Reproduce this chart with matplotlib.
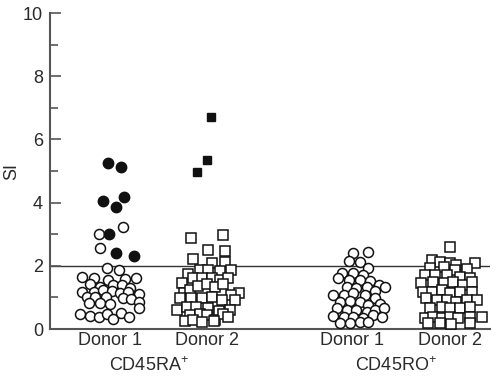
import matplotlib
matplotlib.use("Agg")
import matplotlib.pyplot as plt
import numpy as np

plt.rcParams['font.family'] = ['Liberation Sans', 'DejaVu Sans']
plt.rcParams['mathtext.fontset'] = 'custom'
plt.rcParams['mathtext.rm'] = 'Liberation Sans'
plt.rcParams['mathtext.it'] = 'Liberation Sans'

# Group centres and labels
group_pos = [1.0, 2.0, 3.5, 4.5]
donor_labels = ["Donor 1", "Donor 2", "Donor 1", "Donor 2"]
subset_labels = ["CD45RA$^{+}$", "CD45RO$^{+}$"]
subset_pos = [1.4, 3.95]
threshold = 2.0

# CD45RA+ Donor 1 (open circles): SI values and horizontal jitter
ra1_open_si = [1.94, 1.87, 1.66, 1.60, 1.55, 1.58, 1.62, 1.41, 1.34, 1.39, 1.39, 1.29,
               1.18, 1.18, 1.23, 1.20, 1.13, 1.16, 1.10, 1.02, 1.02, 1.02, 0.99, 0.94,
               0.81, 0.81, 0.78, 0.86, 0.47, 0.42, 0.39, 0.47, 0.32, 0.50, 0.39, 0.65,
               3.02, 3.22, 2.55]
ra1_open_dx = [-0.03, 0.09, -0.29, -0.17, -0.02, 0.15, 0.27, -0.21, -0.10, 0.03, 0.12, 0.21,
               -0.29, -0.17, -0.07, 0.02, 0.10, 0.19, 0.30, -0.24, -0.15, -0.04, 0.13, 0.22,
               -0.22, -0.10, 0.00, 0.30, -0.31, -0.21, -0.11, -0.03, 0.03, 0.11, 0.20, 0.30,
               -0.11, 0.13, -0.10]
# CD45RA+ Donor 1 (filled circles)
ra1_fill_si = [5.26, 5.12, 4.05, 4.19, 3.85, 3.00, 2.41, 2.31]
ra1_fill_dx = [-0.02, 0.11, -0.07, 0.14, 0.06, -0.01, 0.06, 0.25]

# CD45RA+ Donor 2 (open squares)
ra2_open_si = [2.87, 2.97, 2.50, 2.47, 2.21, 2.10, 2.13, 1.73, 1.87, 1.87, 1.84, 1.87,
               1.45, 1.62, 1.60, 1.60, 1.55, 1.60, 1.13, 1.13, 1.23, 1.36, 1.41, 1.34,
               1.41, 1.08, 0.99, 0.99, 0.97, 1.02, 0.92, 0.92, 0.60, 0.71, 0.71, 0.65,
               0.57, 0.60, 0.44, 0.47, 0.44, 0.28, 0.47, 0.26, 0.28, 0.23, 0.26, 0.37]
ra2_open_dx = [-0.16, 0.16, 0.01, 0.19, -0.14, 0.05, 0.19, -0.20, -0.07, 0.01, 0.13, 0.25,
               -0.26, -0.14, -0.05, 0.05, 0.13, 0.22, 0.33, -0.24, -0.18, -0.09, 0.00, 0.08,
               0.17, 0.25, -0.28, -0.16, -0.05, 0.05, 0.15, 0.29, -0.31, -0.21, -0.11, 0.01,
               0.12, 0.24, -0.18, -0.07, 0.00, 0.08, 0.17, -0.23, -0.14, -0.05, 0.07, 0.22]
# CD45RA+ Donor 2 (filled squares)
ra2_fill_si = [6.72, 5.35, 4.96]
ra2_fill_dx = [0.04, 0.00, -0.10]

# CD45RO+ Donor 1 (open circles)
ro1_si = [2.39, 2.43, 2.15, 2.11, 1.92, 1.76, 1.76, 1.71, 1.60, 1.55, 1.55, 1.52,
          1.39, 1.34, 1.34, 1.29, 1.34, 1.20, 1.08, 1.08, 1.13, 1.08, 0.97, 0.86,
          0.89, 0.84, 0.76, 0.78, 0.65, 0.60, 0.60, 0.55, 0.60, 0.65, 0.42, 0.39,
          0.39, 0.36, 0.44, 0.39, 0.18, 0.18, 0.21, 0.23]
ro1_dx = [0.01, 0.16, -0.04, 0.08, 0.16, -0.11, 0.01, 0.11, -0.15, -0.04, 0.08, 0.18,
          0.27, 0.34, -0.06, 0.04, 0.15, 0.23, -0.20, -0.09, 0.01, 0.13, 0.23, -0.13,
          -0.03, 0.08, 0.16, 0.28, -0.16, -0.06, 0.04, 0.15, 0.23, 0.32, -0.20, -0.09,
          0.01, 0.11, 0.21, 0.30, -0.13, -0.03, 0.08, 0.16]

# CD45RO+ Donor 2 (open squares)
ro2_si = [2.60, 2.18, 2.13, 2.08, 2.03, 2.10, 1.92, 1.97, 1.87, 1.89, 1.71, 1.71,
          1.71, 1.66, 1.60, 1.45, 1.50, 1.45, 1.50, 1.39, 1.50, 1.18, 1.18, 1.23,
          1.13, 1.18, 1.18, 0.97, 0.92, 0.92, 0.86, 0.92, 0.92, 0.65, 0.71, 0.65,
          0.65, 0.71, 0.34, 0.37, 0.34, 0.37, 0.34, 0.39, 0.37, 0.18, 0.18, 0.16, 0.18]
ro2_dx = [0.00, -0.18, -0.10, 0.01, 0.07, 0.26, -0.20, -0.06, 0.06, 0.18, -0.25, -0.15,
          -0.03, 0.11, 0.21, -0.29, -0.17, -0.06, 0.04, 0.14, 0.23, -0.27, -0.18, -0.08,
          0.01, 0.11, 0.23, -0.24, -0.13, -0.03, 0.07, 0.18, 0.28, -0.20, -0.08, 0.01,
          0.11, 0.21, -0.25, -0.17, -0.08, 0.01, 0.09, 0.21, 0.33, -0.22, -0.10, 0.02, 0.21]

fig = plt.figure(figsize=(4.96, 3.79), dpi=100)
ax = fig.add_axes([50/496, 1 - 329/379, 440/496, 316/379])

dark = '#111111'
axis_col = '#555555'
text_col = '#2a2a2a'
fs = 13

def pts(center, dx):
    return center + np.asarray(dx)

open_kw = dict(linestyle='none', markerfacecolor='white', markeredgecolor=dark,
               markeredgewidth=1.1, zorder=3)
fill_kw = dict(linestyle='none', markerfacecolor=dark, markeredgecolor=dark, zorder=4)

ax.axhline(threshold, color='#333333', lw=1.0, zorder=1)

ax.plot(pts(group_pos[0], ra1_open_dx), ra1_open_si, 'o', markersize=7.2, **open_kw)
ax.plot(pts(group_pos[0], ra1_fill_dx), ra1_fill_si, 'o', markersize=7.5, **fill_kw)
ax.plot(pts(group_pos[1], ra2_open_dx), ra2_open_si, 's', markersize=6.5, **open_kw)
ax.plot(pts(group_pos[1], ra2_fill_dx), ra2_fill_si, 's', markersize=5.5, **fill_kw)
ax.plot(pts(group_pos[2], ro1_dx), ro1_si, 'o', markersize=7.2, **open_kw)
ax.plot(pts(group_pos[3], ro2_dx), ro2_si, 's', markersize=6.5, **open_kw)

ax.set_xlim(1 - 60/97, 4.5 + 40.5/97)
ax.set_ylim(0, 10)
ax.set_yticks(np.arange(0, 11, 2))
ax.set_yticks(np.arange(1, 10, 2), minor=True)
ax.tick_params(axis='y', which='major', direction='in', length=8, width=1.2,
               color=axis_col, labelsize=fs, labelcolor=text_col, pad=5)
ax.tick_params(axis='y', which='minor', direction='in', length=6, width=1.2, color=axis_col)
ax.set_xticks(group_pos)
ax.set_xticklabels(donor_labels)
ax.tick_params(axis='x', length=0, labelsize=fs, labelcolor=text_col, pad=2)

for s in ['top', 'right']:
    ax.spines[s].set_visible(False)
for s in ['left', 'bottom']:
    ax.spines[s].set_color(axis_col)
    ax.spines[s].set_linewidth(1.5)

ax.set_ylabel("SI", fontsize=fs, color=text_col)
ax.yaxis.set_label_coords(-30/440, 0.5)

for lab, xc in zip(subset_labels, subset_pos):
    ax.text(xc, -0.085, lab, transform=ax.get_xaxis_transform(), ha='center',
            va='top', fontsize=fs, color=text_col)

fig.savefig("out.png", dpi=100)
